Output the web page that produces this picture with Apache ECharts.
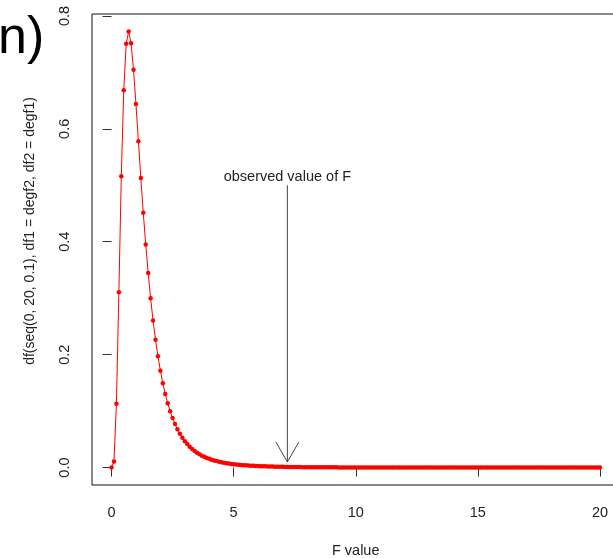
<!DOCTYPE html>
<html>
<head>
<meta charset="utf-8">
<script src="https://cdn.jsdelivr.net/npm/echarts@6/dist/echarts.min.js"></script>
<style>
  html, body { margin: 0; padding: 0; background: #fff; }
  #chart { width: 613px; height: 558px; }
</style>
</head>
<body>
<div id="chart"></div>
<script>
// F values on the grid seq(0, 20, 0.1)
const fValues = [
  0.0, 0.1, 0.2, 0.3, 0.4, 0.5, 0.6, 0.7, 0.8, 0.9,
  1.0, 1.1, 1.2, 1.3, 1.4, 1.5, 1.6, 1.7, 1.8, 1.9,
  2.0, 2.1, 2.2, 2.3, 2.4, 2.5, 2.6, 2.7, 2.8, 2.9,
  3.0, 3.1, 3.2, 3.3, 3.4, 3.5, 3.6, 3.7, 3.8, 3.9,
  4.0, 4.1, 4.2, 4.3, 4.4, 4.5, 4.6, 4.7, 4.8, 4.9,
  5.0, 5.1, 5.2, 5.3, 5.4, 5.5, 5.6, 5.7, 5.8, 5.9,
  6.0, 6.1, 6.2, 6.3, 6.4, 6.5, 6.6, 6.7, 6.8, 6.9,
  7.0, 7.1, 7.2, 7.3, 7.4, 7.5, 7.6, 7.7, 7.8, 7.9,
  8.0, 8.1, 8.2, 8.3, 8.4, 8.5, 8.6, 8.7, 8.8, 8.9,
  9.0, 9.1, 9.2, 9.3, 9.4, 9.5, 9.6, 9.7, 9.8, 9.9,
  10.0, 10.1, 10.2, 10.3, 10.4, 10.5, 10.6, 10.7, 10.8, 10.9,
  11.0, 11.1, 11.2, 11.3, 11.4, 11.5, 11.6, 11.7, 11.8, 11.9,
  12.0, 12.1, 12.2, 12.3, 12.4, 12.5, 12.6, 12.7, 12.8, 12.9,
  13.0, 13.1, 13.2, 13.3, 13.4, 13.5, 13.6, 13.7, 13.8, 13.9,
  14.0, 14.1, 14.2, 14.3, 14.4, 14.5, 14.6, 14.7, 14.8, 14.9,
  15.0, 15.1, 15.2, 15.3, 15.4, 15.5, 15.6, 15.7, 15.8, 15.9,
  16.0, 16.1, 16.2, 16.3, 16.4, 16.5, 16.6, 16.7, 16.8, 16.9,
  17.0, 17.1, 17.2, 17.3, 17.4, 17.5, 17.6, 17.7, 17.8, 17.9,
  18.0, 18.1, 18.2, 18.3, 18.4, 18.5, 18.6, 18.7, 18.8, 18.9,
  19.0, 19.1, 19.2, 19.3, 19.4, 19.5, 19.6, 19.7, 19.8, 19.9,
  20.0
];

// density at each F value
const density = [
  0.0000, 0.0108, 0.1130, 0.3105, 0.5162, 0.6683, 0.7505, 0.7725, 0.7517, 0.7045,
  0.6438, 0.5782, 0.5129, 0.4513, 0.3950, 0.3445, 0.2998, 0.2606, 0.2266, 0.1971,
  0.1715, 0.1495, 0.1304, 0.1140, 0.0998, 0.0876, 0.0770, 0.0678, 0.0598, 0.0529,
  0.0468, 0.0416, 0.0370, 0.0329, 0.0294, 0.0263, 0.0235, 0.0211, 0.0190, 0.0171,
  0.0154, 0.0139, 0.0126, 0.0114, 0.0104, 0.0094, 0.0086, 0.0078, 0.0071, 0.0065,
  0.0059, 0.0054, 0.0050, 0.0046, 0.0042, 0.0039, 0.0036, 0.0033, 0.0030, 0.0028,
  0.0026, 0.0024, 0.0022, 0.0021, 0.0019, 0.0018, 0.0017, 0.0015, 0.0014, 0.0013,
  0.0013, 0.0012, 0.0011, 0.0010, 0.0010, 0.0009, 0.0008, 0.0008, 0.0007, 0.0007,
  0.0007, 0.0006, 0.0006, 0.0005, 0.0005, 0.0005, 0.0005, 0.0004, 0.0004, 0.0004,
  0.00036, 0.00034, 0.00032, 0.00031, 0.00029, 0.00027, 0.00026, 0.00025, 0.00023, 0.00022,
  0.00021, 0.00020, 0.00019, 0.00018, 0.00017, 0.00016, 0.00016, 0.00015, 0.00014, 0.00014,
  0.00013, 0.00012, 0.00012, 0.00011, 0.00011, 0.00010, 0.00010, 0.00009, 0.00009, 0.00008,
  0.00008, 0.00008, 0.00008, 0.00007, 0.00007, 0.00007, 0.00006, 0.00006, 0.00006, 0.00006,
  0.00005, 0.00005, 0.00005, 0.00005, 0.00005, 0.00004, 0.00004, 0.00004, 0.00004, 0.00004,
  0.00004, 0.00004, 0.00003, 0.00003, 0.00003, 0.00003, 0.00003, 0.00003, 0.00003, 0.00003,
  0.00002, 0.00002, 0.00002, 0.00002, 0.00002, 0.00002, 0.00002, 0.00002, 0.00002, 0.00002,
  0.00002, 0.00002, 0.00002, 0.00002, 0.00002, 0.00002, 0.00002, 0.00002, 0.00002, 0.00002,
  0.00001, 0.00001, 0.00001, 0.00001, 0.00001, 0.00001, 0.00001, 0.00001, 0.00001, 0.00001,
  0.00001, 0.00001, 0.00001, 0.00001, 0.00001, 0.00001, 0.00001, 0.00001, 0.00001, 0.00001,
  0.00001, 0.00001, 0.00001, 0.00001, 0.00001, 0.00001, 0.00001, 0.00001, 0.00001, 0.00001,
  0.00001
];

const xTicks = [0, 5, 10, 15, 20];
const yTicks = [0.0, 0.2, 0.4, 0.6, 0.8];

// observed statistic and its annotation
const observedF = 7.2;
const arrowFrom = 0.5;
const arrowTo = 0.01;
const observedLabelY = 0.514;
const observedLabel = 'observed value of F';

const FONT = '"Liberation Sans", Arial, sans-serif';
const INK = '#222';

const points = fValues.map((x, i) => [x, density[i]]);

const chart = echarts.init(document.getElementById('chart'), null, { renderer: 'canvas' });

chart.setOption({
  animation: false,
  backgroundColor: '#fff',
  grid: {
    left: 92, top: 14, width: 527.5, height: 471,
    outerBoundsMode: 'none',
    containLabel: false,
    show: true, borderColor: '#111', borderWidth: 1,
    backgroundColor: 'transparent'
  },
  xAxis: {
    type: 'value',
    min: -0.8, max: 20.8,
    axisLine: { show: false },
    splitLine: { show: false },
    axisTick: { show: true, length: 9, customValues: xTicks, lineStyle: { color: '#333' } },
    axisLabel: {
      customValues: xTicks, margin: 20,
      fontFamily: FONT, fontSize: 14.5, color: INK,
      formatter: v => String(v)
    }
  },
  yAxis: {
    type: 'value',
    min: -0.0309, max: 0.8034,
    axisLine: { show: false },
    splitLine: { show: false },
    axisTick: { show: true, length: 9, customValues: yTicks, lineStyle: { color: '#333' } },
    axisLabel: {
      customValues: yTicks, margin: 20, rotate: 90,
      fontFamily: FONT, fontSize: 14.5, color: INK,
      formatter: v => v.toFixed(1)
    }
  },
  graphic: [
    {
      type: 'text', left: -2, top: 13,
      style: { text: 'n)', font: '52px ' + FONT, fill: '#000' }
    },
    {
      type: 'text', x: 355.7, y: 551,
      style: { text: 'F value', font: '14.5px ' + FONT, fill: INK, align: 'center', verticalAlign: 'middle' }
    },
    {
      type: 'text', x: 30.5, y: 231, rotation: Math.PI / 2,
      style: {
        text: 'df(seq(0, 20, 0.1), df1 = degf2, df2 = degf1)',
        font: '14px ' + FONT, fill: INK, align: 'center', verticalAlign: 'middle'
      }
    }
  ],
  series: [
    {
      type: 'line',
      data: points,
      symbol: 'circle',
      symbolSize: 4.5,
      showSymbol: true,
      showAllSymbol: true,
      itemStyle: { color: '#ff0000' },
      lineStyle: { color: '#ff0000', width: 1 },
      z: 3
    },
    {
      type: 'custom',
      data: [[observedF, arrowFrom, arrowTo, observedLabelY]],
      z: 4,
      renderItem: function (params, api) {
        const x = api.value(0);
        const top = api.coord([x, api.value(1)]);
        const tip = api.coord([x, api.value(2)]);
        const lab = api.coord([x, api.value(3)]);
        const len = 23, ang = Math.PI / 6;
        const stroke = { stroke: '#444', lineWidth: 1 };
        return {
          type: 'group',
          children: [
            { type: 'line', shape: { x1: top[0], y1: top[1], x2: tip[0], y2: tip[1] }, style: stroke },
            { type: 'line', shape: { x1: tip[0], y1: tip[1], x2: tip[0] - len * Math.sin(ang), y2: tip[1] - len * Math.cos(ang) }, style: stroke },
            { type: 'line', shape: { x1: tip[0], y1: tip[1], x2: tip[0] + len * Math.sin(ang), y2: tip[1] - len * Math.cos(ang) }, style: stroke },
            {
              type: 'text', x: lab[0], y: lab[1],
              style: { text: observedLabel, font: '14.5px ' + FONT, fill: INK, align: 'center', verticalAlign: 'middle' }
            }
          ]
        };
      }
    }
  ]
});
</script>
</body>
</html>
